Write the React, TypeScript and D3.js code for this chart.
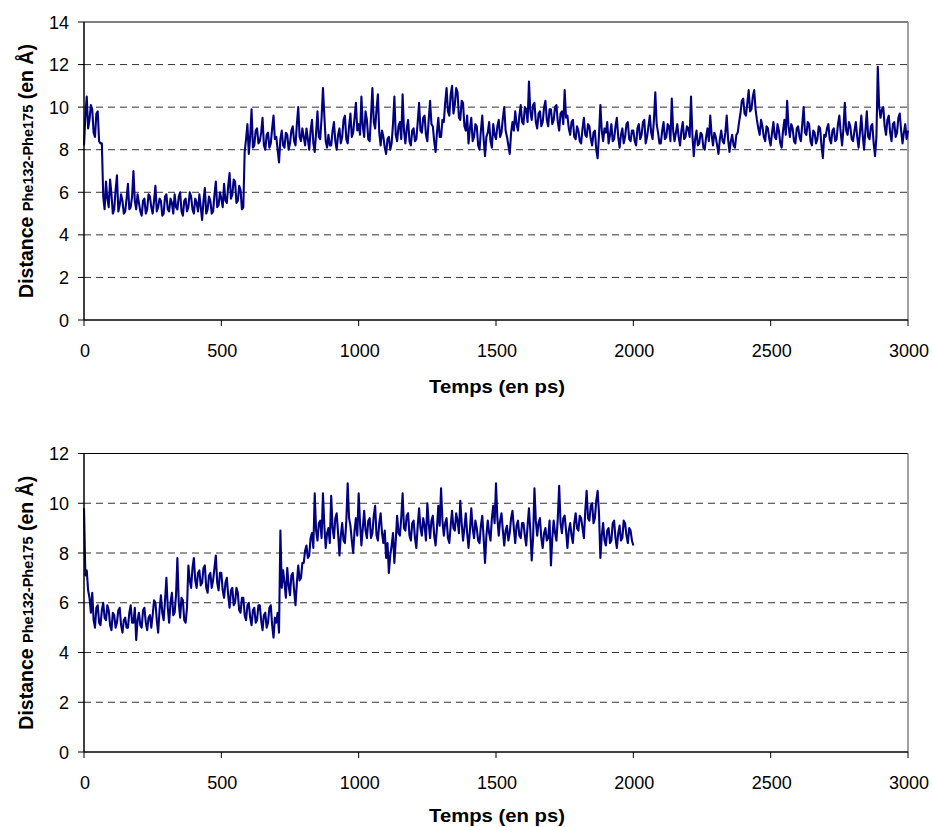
import React from 'react';
import * as d3 from 'd3';

// time step between samples (ps)
const timeStep = 5;

// Top run: distance (Å) sampled every 5 ps, 0..3000 ps (20 values per 100 ps)
const topDistance = [
  8.2, 9.6, 10.5, 9.0, 9.4, 10.1, 9.9, 8.8, 8.6, 9.7, 9.8, 8.4, 8.3, 8.3, 5.8, 5.2, 6.5, 5.7, 5.3, 6.6,
  5.9, 5.0, 5.2, 6.1, 6.8, 5.1, 5.4, 5.9, 5.6, 5.0, 5.1, 5.7, 6.4, 5.2, 5.3, 5.8, 7.0, 5.6, 5.2, 5.9,
  5.5, 5.1, 4.9, 5.6, 5.7, 5.0, 5.2, 5.9, 5.8, 5.3, 5.0, 5.6, 6.3, 5.1, 5.3, 5.7, 5.6, 4.9, 5.0, 5.8,
  5.9, 5.2, 5.1, 5.7, 5.5, 5.0, 5.9, 5.3, 5.2, 5.8, 6.0, 5.1, 4.9, 5.6, 5.7, 5.1, 5.3, 6.0, 5.8, 5.2,
  5.0, 5.7, 5.5, 5.1, 5.9, 5.3, 4.7, 5.6, 6.2, 5.0, 5.2, 5.8, 5.6, 5.0, 5.1, 5.9, 6.5, 5.3, 5.4, 6.0,
  5.7, 5.3, 6.4, 5.6, 5.5, 6.3, 6.9, 5.7, 5.9, 6.6, 6.5, 5.5, 5.6, 6.3, 6.1, 5.2, 5.3, 7.9, 8.5, 9.2,
  7.8, 8.6, 9.9, 8.1, 8.2, 8.9, 9.0, 8.3, 8.4, 8.8, 9.5, 8.2, 8.0, 8.7, 8.8, 8.1, 8.3, 9.0, 9.6, 8.5,
  8.6, 8.0, 7.4, 8.5, 8.9, 8.2, 8.1, 8.8, 8.7, 8.0, 8.3, 8.9, 9.1, 8.4, 8.2, 9.2, 10.0, 8.6, 8.4, 9.0,
  8.6, 8.2, 9.0, 8.5, 8.0, 8.9, 9.4, 8.3, 7.9, 8.8, 9.8, 8.6, 8.5, 9.5, 10.9, 9.6, 8.4, 8.1, 8.7, 8.2,
  8.2, 8.9, 9.3, 8.4, 8.0, 8.7, 9.0, 8.3, 8.6, 9.4, 9.6, 8.5, 8.3, 9.1, 9.7, 8.6, 8.8, 9.5, 10.2, 8.9,
  9.2, 8.7, 10.5, 9.1, 8.6, 9.8, 9.4, 8.5, 8.4, 9.6, 10.9, 9.3, 9.0, 9.9, 10.6, 8.8, 8.2, 8.9, 8.6, 8.1,
  7.8, 8.5, 8.6, 8.0, 8.3, 9.2, 10.5, 8.7, 8.4, 9.1, 9.3, 8.5, 10.6, 8.9, 8.3, 9.0, 9.4, 8.4, 8.2, 8.9,
  9.0, 8.4, 8.5, 9.3, 10.2, 8.9, 8.8, 9.5, 9.6, 8.7, 8.4, 9.4, 10.3, 9.2, 9.1, 8.4, 7.9, 8.8, 9.5, 8.6,
  8.6, 9.4, 9.3, 10.2, 10.9, 9.8, 9.6, 10.6, 11.0, 9.7, 10.1, 10.9, 10.7, 9.5, 9.4, 10.3, 10.2, 9.1, 8.9, 9.6,
  8.3, 9.0, 9.5, 8.4, 8.6, 9.2, 9.1, 8.2, 8.0, 8.9, 9.6, 8.5, 7.7, 8.6, 8.8, 9.3, 8.4, 8.1, 9.2, 8.7,
  8.5, 9.1, 9.4, 8.6, 8.8, 9.5, 10.0, 8.9, 8.6, 8.2, 7.8, 8.8, 9.3, 8.9, 9.8, 9.2, 8.9, 9.6, 10.1, 9.3,
  9.2, 10.0, 9.9, 9.3, 11.2, 9.8, 9.4, 10.1, 10.2, 9.3, 9.0, 9.7, 9.8, 9.1, 9.3, 10.0, 10.3, 9.4, 9.1, 9.9,
  9.9, 9.2, 9.4, 10.0, 10.1, 9.3, 8.9, 9.7, 9.8, 9.2, 10.8, 9.5, 9.6, 9.0, 8.7, 9.3, 9.4, 8.6, 8.5, 9.1,
  8.9, 8.4, 8.3, 9.0, 9.5, 8.7, 8.6, 9.2, 9.1, 8.5, 8.2, 8.8, 8.9, 8.0, 7.6, 8.7, 10.1, 8.9, 8.4, 9.0,
  8.8, 9.3, 8.3, 8.7, 9.2, 8.4, 8.5, 9.1, 9.5, 8.6, 8.1, 8.7, 9.0, 8.3, 8.6, 9.2, 9.3, 8.5, 8.4, 8.9,
  8.9, 8.4, 8.2, 9.0, 9.2, 8.5, 8.7, 9.3, 9.4, 8.3, 8.6, 9.1, 9.6, 8.8, 8.5, 9.4, 10.7, 9.2, 8.8, 8.3,
  8.3, 8.9, 9.3, 8.5, 8.6, 9.2, 9.1, 8.4, 10.4, 8.9, 8.4, 8.8, 9.2, 8.6, 8.2, 8.9, 9.3, 8.5, 8.6, 9.1,
  9.0, 8.6, 10.5, 8.7, 7.7, 8.5, 8.9, 8.2, 8.3, 8.8, 8.7, 8.1, 8.0, 8.6, 9.0, 8.4, 9.6, 8.7, 8.2, 8.8,
  8.6, 8.2, 7.8, 8.5, 8.9, 8.4, 8.3, 8.8, 9.6, 8.5, 7.9, 8.4, 8.7, 8.2, 8.1, 8.7, 8.8, 9.3, 9.7, 10.3,
  10.4, 9.7, 9.6, 10.2, 10.8, 9.8, 9.9, 10.5, 10.8, 9.9, 9.4, 9.0, 8.7, 9.4, 9.1, 8.6, 8.4, 9.1, 9.0, 8.5,
  8.2, 8.8, 9.3, 8.6, 8.5, 9.2, 8.9, 8.3, 8.1, 8.9, 9.4, 8.7, 10.3, 9.1, 8.6, 9.2, 9.0, 8.4, 8.3, 9.0,
  9.1, 8.6, 8.4, 9.2, 10.0, 8.8, 8.7, 9.3, 9.2, 8.4, 8.2, 8.9, 8.8, 8.3, 8.5, 9.1, 9.0, 8.2, 7.6, 8.7,
  8.6, 9.0, 9.2, 8.5, 8.3, 8.9, 9.0, 8.4, 8.5, 9.2, 9.6, 8.8, 8.2, 9.0, 10.2, 8.9, 8.7, 9.3, 9.1, 8.5,
  8.4, 8.9, 9.3, 8.6, 8.1, 8.8, 9.6, 8.7, 8.0, 8.9, 9.8, 8.6, 8.5, 9.1, 9.2, 8.3, 7.7, 8.6, 11.9, 10.0,
  9.5, 9.9, 10.0, 9.1, 8.7, 9.4, 9.6, 8.8, 8.4, 9.2, 9.3, 8.6, 8.8, 9.5, 9.7, 8.9, 8.3, 8.8, 9.2, 8.5, 8.9,
];

// Bottom run: distance (Å) sampled every 5 ps, 0..2000 ps (20 values per 100 ps)
const bottomDistance = [
  9.8, 7.1, 7.3, 6.5, 6.2, 5.6, 6.4, 5.3, 5.0, 5.8, 5.9, 5.2, 5.1, 5.7, 6.0, 5.4, 5.3, 5.9, 5.7, 5.1,
  4.9, 5.6, 5.5, 5.0, 5.2, 5.7, 5.8, 5.1, 4.8, 5.3, 5.4, 5.0, 5.0, 5.6, 5.9, 5.2, 5.2, 5.8, 4.5, 5.3,
  5.6, 5.1, 5.0, 5.7, 5.8, 5.2, 4.9, 5.4, 5.5, 5.0, 5.5, 6.1, 6.0, 5.3, 4.8, 5.7, 6.3, 5.6, 5.3, 6.1,
  7.0, 5.8, 5.2, 6.0, 6.4, 5.5, 5.6, 6.3, 7.8, 6.0, 5.4, 6.2, 6.1, 5.3, 5.2, 5.8, 7.5, 6.9, 6.6, 7.4,
  7.8, 6.9, 6.6, 7.2, 7.3, 6.7, 6.8, 7.4, 7.5, 6.6, 6.4, 7.1, 7.2, 6.6, 6.9, 7.4, 7.9, 6.8, 6.5, 7.2,
  7.2, 6.5, 6.2, 6.8, 7.0, 6.3, 5.8, 6.5, 6.6, 5.9, 6.0, 6.6, 6.4, 5.7, 5.6, 6.2, 6.2, 5.5, 5.3, 5.9,
  6.0, 5.4, 5.1, 5.7, 5.8, 5.2, 5.3, 5.9, 5.9, 5.3, 4.9, 5.5, 5.6, 5.0, 5.2, 5.8, 5.9, 5.1, 4.6, 5.4,
  5.2, 5.6, 4.8, 8.9, 6.6, 7.3, 6.8, 6.2, 7.4, 6.7, 6.3, 7.1, 7.2, 6.5, 5.9, 6.8, 7.5, 6.9, 7.0, 7.6,
  7.6, 8.1, 8.3, 7.8, 7.9, 8.6, 8.8, 8.2, 10.4, 8.9, 8.5, 9.2, 9.3, 8.6, 10.4, 9.1, 8.2, 8.8, 9.0, 8.4,
  10.3, 9.0, 8.6, 9.4, 9.6, 8.8, 7.9, 8.7, 9.2, 8.5, 8.4, 9.3, 10.8, 9.4, 9.1, 8.5, 8.0, 8.9, 9.4, 8.7,
  10.4, 9.2, 8.3, 9.0, 9.7, 8.9, 8.6, 9.3, 9.4, 8.6, 8.8, 9.5, 9.9, 8.7, 8.5, 9.2, 9.6, 8.8, 8.4, 8.9,
  7.8, 8.4, 7.2, 7.9, 8.3, 8.8, 7.6, 8.5, 9.5, 8.8, 8.7, 9.4, 10.4, 9.0, 8.9, 9.5, 9.6, 8.7, 8.5, 9.2,
  9.3, 8.6, 8.2, 9.1, 9.8, 9.0, 8.7, 9.4, 9.1, 8.5, 10.0, 9.2, 8.6, 9.3, 9.5, 8.7, 8.3, 9.0, 9.9, 9.1,
  10.6, 9.3, 8.7, 9.2, 9.4, 8.6, 8.4, 9.1, 9.7, 9.0, 8.9, 9.6, 9.3, 8.8, 10.1, 9.2, 8.5, 9.0, 9.6, 8.8,
  8.2, 8.9, 9.8, 9.0, 8.6, 9.3, 9.0, 8.5, 8.4, 9.1, 9.5, 8.6, 7.6, 8.7, 9.3, 8.8, 8.5, 9.4, 9.9, 9.2,
  10.8, 9.4, 8.7, 9.3, 9.6, 8.9, 8.3, 8.9, 9.1, 8.5, 8.8, 9.4, 9.7, 9.0, 8.4, 9.1, 9.3, 8.7, 8.6, 9.2,
  9.2, 8.7, 8.3, 9.1, 9.8, 8.9, 7.7, 8.6, 10.6, 9.3, 8.7, 9.2, 9.4, 8.6, 8.2, 8.8, 9.0, 8.5, 8.6, 9.3,
  7.5, 8.6, 9.3, 8.8, 8.5, 9.4, 10.7, 9.2, 8.8, 9.4, 9.5, 8.9, 8.2, 8.9, 9.2, 8.7, 8.4, 9.2, 9.6, 9.0,
  8.9, 9.5, 9.4, 9.0, 8.6, 9.7, 10.5, 9.4, 9.3, 9.9, 10.0, 9.2, 9.4, 10.1, 10.5, 9.6, 7.8, 8.7, 9.2, 8.5,
  8.3, 8.9, 9.0, 8.4, 8.5, 9.2, 9.3, 8.6, 8.2, 8.8, 9.1, 8.5, 8.6, 9.3, 9.2, 8.7, 8.4, 9.0, 8.9, 8.5, 8.3,
];

const xTicks = [0, 500, 1000, 1500, 2000, 2500, 3000];
const topYTicks = [0, 2, 4, 6, 8, 10, 12, 14];
const bottomYTicks = [0, 2, 4, 6, 8, 10, 12];
const xTitle = 'Temps (en ps)';

const FONT = '"Liberation Sans", Arial, Helvetica, sans-serif';
const LEFT = 84;
const RIGHT = 908;

type PanelProps = {
  data: number[];
  yMax: number;
  yTicks: number[];
  top: number;
  bottom: number;
  titleBase: number;
};

function Panel({ data, yMax, yTicks, top, bottom, titleBase }: PanelProps) {
  const x = d3.scaleLinear().domain([0, 3000]).range([LEFT, RIGHT]);
  const y = d3.scaleLinear().domain([0, yMax]).range([bottom, top]);
  const line = d3
    .line<number>()
    .x((_, i) => x(i * timeStep))
    .y((d) => y(d));
  const cy = (top + bottom) / 2;
  return (
    <g fontFamily={FONT}>
      {yTicks
        .filter((t) => t > 0 && t < yMax)
        .map((t) => (
          <line
            key={'g' + t}
            x1={LEFT}
            x2={RIGHT}
            y1={y(t)}
            y2={y(t)}
            stroke="#333"
            strokeWidth={1}
            strokeDasharray="7,5"
          />
        ))}
      <line x1={LEFT} x2={RIGHT} y1={top} y2={top} stroke="#000" strokeWidth={1} />
      <line x1={RIGHT} x2={RIGHT} y1={top} y2={bottom} stroke="#808080" strokeWidth={1.5} />
      <path d={line(data) || ''} fill="none" stroke="#000080" strokeWidth={2.1} strokeLinejoin="round" />
      <line x1={LEFT} x2={LEFT} y1={top} y2={bottom} stroke="#000" strokeWidth={1.5} />
      <line x1={LEFT} x2={RIGHT} y1={bottom} y2={bottom} stroke="#000" strokeWidth={1.5} />
      {yTicks.map((t) => (
        <g key={'y' + t}>
          <line x1={LEFT - 6} x2={LEFT} y1={y(t)} y2={y(t)} stroke="#000" strokeWidth={1} />
          <text x={69} y={y(t) + 6.5} textAnchor="end" fontSize={18} fill="#000">
            {t}
          </text>
        </g>
      ))}
      {xTicks.map((t) => (
        <g key={'x' + t}>
          <line x1={x(t)} x2={x(t)} y1={bottom} y2={bottom + 6} stroke="#000" strokeWidth={1} />
          <text x={x(t) + 1} y={bottom + 37} textAnchor="middle" fontSize={18} fill="#000">
            {t}
          </text>
        </g>
      ))}
      <text
        x={(LEFT + RIGHT) / 2 + 1}
        y={titleBase}
        textAnchor="middle"
        fontSize={18}
        fontWeight="bold"
        fill="#000"
        textLength={136}
        lengthAdjust="spacingAndGlyphs"
      >
        {xTitle}
      </text>
      <text
        transform={`translate(33,${cy}) rotate(-90)`}
        textAnchor="middle"
        fontWeight="bold"
        fill="#000"
      >
        <tspan fontSize={19.5}>Distance </tspan>
        <tspan fontSize={14.5}>Phe132-Phe175</tspan>
        <tspan fontSize={19.5}> (en Å)</tspan>
      </text>
    </g>
  );
}

export default function App() {
  return (
    <svg
      width={933}
      height={827}
      style={{ position: 'absolute', left: 0, top: 0, background: '#fff' }}
    >
      <rect width={933} height={827} fill="#fff" />
      <Panel data={topDistance} yMax={14} yTicks={topYTicks} top={22} bottom={320} titleBase={393} />
      <Panel data={bottomDistance} yMax={12} yTicks={bottomYTicks} top={453.5} bottom={752} titleBase={822} />
    </svg>
  );
}
